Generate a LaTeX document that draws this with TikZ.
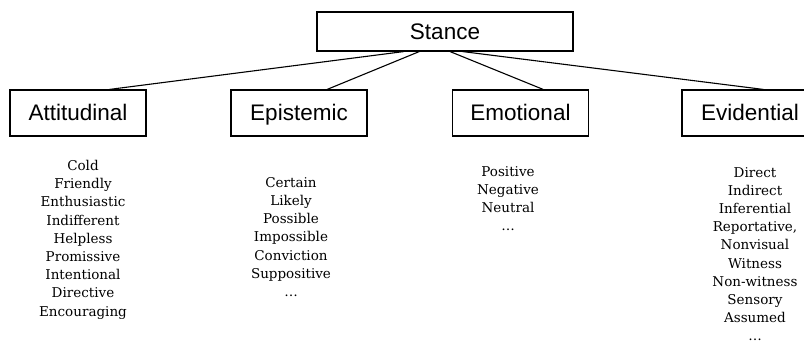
\documentclass[tikz,border=0pt]{standalone}
\usepackage{fontspec}
\setmainfont{DejaVu Serif}
\newfontfamily\boxfont{Liberation Sans}

\begin{document}
\begin{tikzpicture}[x=1pt,y=1pt,
    box/.style={draw,line width=1.1pt,minimum height=46pt,minimum width=136pt,inner sep=0pt,text height=17pt,text depth=1pt,font=\boxfont\fontsize{22.5}{26}\selectfont},
    words/.style={anchor=north,inner sep=0pt,align=center,font=\fontsize{13.5}{18.2}\selectfont}]
      \useasboundingbox (0,0) rectangle (804,346);
      %\draw (0,0) grid (804,346);
      \node [box,minimum width=256pt,minimum height=39pt] (stance) at (445,314.5) {Stance};
      \node [box] (attitudinal) at (78,233) {Attitudinal};
      \node [box] (epistemic) at (299,233) {Epistemic};
      \node [box] (emotional) at (520.5,233) {Emotional};
      \node [box] (evidential) at (750,233) {Evidential};
      \draw [line width=1.1pt] (stance.206) -- (attitudinal.37);
      \draw [line width=1.1pt] (stance.218) -- (epistemic.40);
      \draw [line width=1.1pt] (stance.284) -- (emotional.46);
      \draw [line width=1.1pt] (stance.311) -- (evidential.60);
      \node [words] (attlist) at (83,186) {Cold\\Friendly\\Enthusiastic\\Indifferent\\Helpless\\Promissive\\Intentional\\Directive\\Encouraging};
      \node [words] (epilist) at (291,169) {Certain\\Likely\\Possible\\Impossible\\Conviction\\Suppositive\\\dots};
      \node [words] (emolist) at (508,180) {Positive\\Negative\\Neutral\\\dots};
      \node [words] (evilist) at (755,179) {Direct\\Indirect\\Inferential\\Reportative,\\Nonvisual\\Witness\\Non-witness\\Sensory\\Assumed\\\dots};
    \end{tikzpicture}
\end{document}
